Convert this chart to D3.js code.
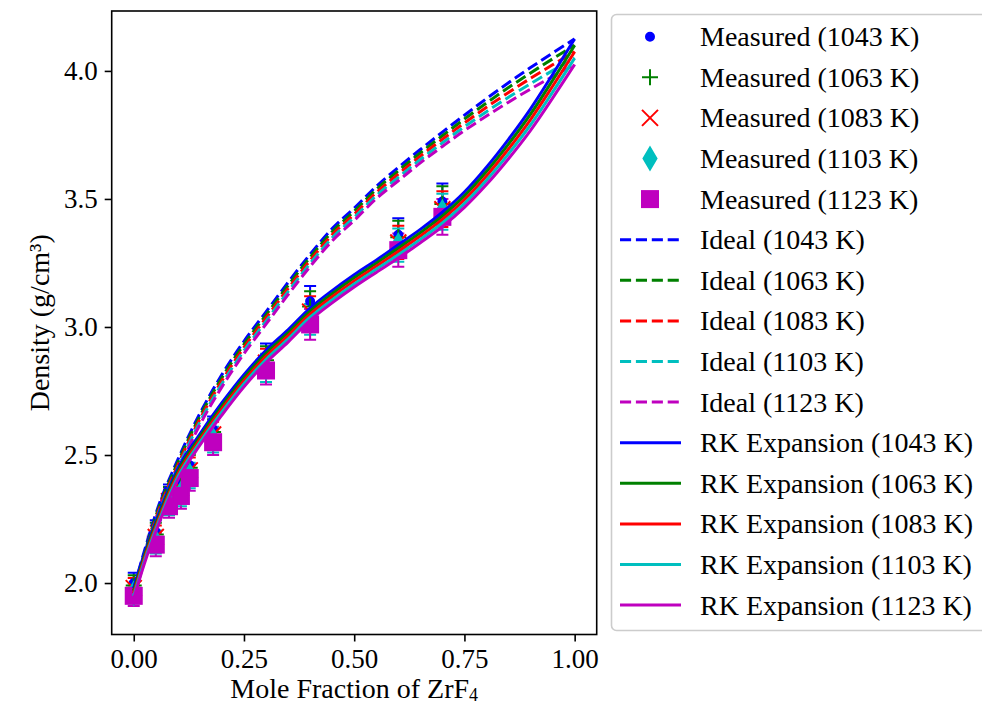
<!DOCTYPE html>
<html>
<head>
<meta charset="utf-8">
<script src="https://cdn.jsdelivr.net/npm/d3@7"></script>
<style>
  body { margin: 0; background: #fff; }
  svg text { font-family: "Liberation Serif", "DejaVu Serif", serif; fill: #000; }
</style>
</head>
<body>
<div id="chart"></div>
<script>
// ---------------- data ----------------
const temps = ["1043 K", "1063 K", "1083 K", "1103 K", "1123 K"];
const colors = ["#0000ff", "#008000", "#ff0000", "#00bfbf", "#bf00bf"];
const markers = ["point", "plus", "x", "thin_diamond", "square"];

// measured densities (g/cm3) vs mole fraction ZrF4
const measX = [0, 0.05, 0.08, 0.107, 0.127, 0.18, 0.30, 0.40, 0.60, 0.70];
const meas1043 = [2.00, 2.20, 2.34, 2.39, 2.46, 2.60, 2.88, 3.10, 3.36, 3.49];
const meas1063 = [1.99, 2.19, 2.33, 2.38, 2.45, 2.59, 2.87, 3.08, 3.35, 3.48];
const meas1083 = [1.98, 2.18, 2.32, 2.37, 2.44, 2.58, 2.86, 3.06, 3.33, 3.46];
const meas1103 = [1.96, 2.16, 2.31, 2.35, 2.42, 2.56, 2.84, 3.03, 3.32, 3.45];
const meas1123 = [1.95, 2.15, 2.30, 2.34, 2.41, 2.55, 2.83, 3.01, 3.30, 3.43];
const measErr  = [0.04, 0.045, 0.045, 0.05, 0.05, 0.05, 0.055, 0.06, 0.065, 0.07];

// model curves
const curveX = [0, 0.025, 0.05, 0.1, 0.15, 0.2, 0.25, 0.3, 0.35, 0.4, 0.45, 0.5, 0.55, 0.6, 0.65, 0.7, 0.75, 0.8, 0.85, 0.9, 0.95, 1.0];
const ideal1043 = [1.98, 2.13, 2.27, 2.482, 2.662, 2.814, 2.944, 3.059, 3.174, 3.284, 3.384, 3.464, 3.549, 3.623, 3.693, 3.761, 3.827, 3.892, 3.954, 4.013, 4.07, 4.125];
const ideal1063 = [1.97, 2.12, 2.26, 2.471, 2.651, 2.802, 2.932, 3.047, 3.162, 3.272, 3.372, 3.452, 3.537, 3.61, 3.68, 3.747, 3.812, 3.875, 3.935, 3.992, 4.047, 4.10];
const ideal1083 = [1.96, 2.11, 2.25, 2.46, 2.64, 2.79, 2.92, 3.035, 3.15, 3.26, 3.36, 3.44, 3.525, 3.597, 3.667, 3.733, 3.797, 3.858, 3.916, 3.971, 4.024, 4.075];
const ideal1103 = [1.95, 2.10, 2.24, 2.449, 2.629, 2.778, 2.908, 3.023, 3.138, 3.248, 3.348, 3.428, 3.513, 3.584, 3.654, 3.719, 3.782, 3.841, 3.897, 3.95, 4.001, 4.05];
const ideal1123 = [1.94, 2.09, 2.23, 2.438, 2.618, 2.766, 2.896, 3.011, 3.126, 3.236, 3.336, 3.416, 3.501, 3.571, 3.641, 3.705, 3.767, 3.824, 3.878, 3.929, 3.978, 4.025];
const rk1043 = [1.98, 2.12, 2.24, 2.447, 2.582, 2.704, 2.814, 2.909, 2.989, 3.074, 3.142, 3.204, 3.261, 3.321, 3.381, 3.448, 3.527, 3.624, 3.733, 3.852, 3.986, 4.125];
const rk1063 = [1.97, 2.11, 2.23, 2.436, 2.571, 2.692, 2.802, 2.897, 2.977, 3.062, 3.13, 3.192, 3.249, 3.308, 3.368, 3.434, 3.512, 3.607, 3.714, 3.831, 3.963, 4.10];
const rk1083 = [1.96, 2.10, 2.22, 2.425, 2.56, 2.68, 2.79, 2.885, 2.965, 3.05, 3.118, 3.18, 3.237, 3.295, 3.355, 3.42, 3.497, 3.59, 3.695, 3.81, 3.94, 4.075];
const rk1103 = [1.95, 2.09, 2.21, 2.414, 2.549, 2.668, 2.778, 2.873, 2.953, 3.038, 3.106, 3.168, 3.225, 3.282, 3.342, 3.406, 3.482, 3.573, 3.676, 3.789, 3.917, 4.05];
const rk1123 = [1.94, 2.08, 2.20, 2.403, 2.538, 2.656, 2.766, 2.861, 2.941, 3.026, 3.094, 3.156, 3.213, 3.269, 3.329, 3.392, 3.467, 3.556, 3.657, 3.768, 3.894, 4.025];

const xTicks = [0, 0.25, 0.5, 0.75, 1.0];
const yTicks = [2.0, 2.5, 3.0, 3.5, 4.0];

const measured = [meas1043, meas1063, meas1083, meas1103, meas1123];
const ideal = [ideal1043, ideal1063, ideal1083, ideal1103, ideal1123];
const rk = [rk1043, rk1063, rk1083, rk1103, rk1123];

// ---------------- layout ----------------
const W = 982, H = 705;
const plot = { left: 111.7, right: 596.7, top: 11, bottom: 634.5 };

const svg = d3.select("#chart").append("svg")
    .attr("width", W).attr("height", H);

const x = d3.scaleLinear().domain([-0.05, 1.05]).range([plot.left, plot.right]);
const y = d3.scaleLinear().domain([1.799, 4.234]).range([plot.bottom, plot.top]);

// clip for data
svg.append("defs").append("clipPath").attr("id", "clip")
    .append("rect")
    .attr("x", plot.left).attr("y", plot.top)
    .attr("width", plot.right - plot.left).attr("height", plot.bottom - plot.top);

// marker symbol drawer
function drawMarker(g, type, color) {
    if (type === "point") {
        g.append("circle").attr("r", 4).attr("fill", color).attr("stroke", color).attr("stroke-width", 2);
    } else if (type === "plus") {
        g.append("path").attr("d", "M-8,0H8M0,-8V8").attr("stroke", color).attr("stroke-width", 2).attr("fill", "none");
    } else if (type === "x") {
        g.append("path").attr("d", "M-8,-8L8,8M-8,8L8,-8").attr("stroke", color).attr("stroke-width", 2).attr("fill", "none");
    } else if (type === "thin_diamond") {
        g.append("path").attr("d", "M0,-11L6.5,0L0,11L-6.5,0Z").attr("fill", color).attr("stroke", color).attr("stroke-width", 2);
    } else if (type === "square") {
        g.append("rect").attr("x", -8).attr("y", -8).attr("width", 16).attr("height", 16)
            .attr("fill", color).attr("stroke", color).attr("stroke-width", 2);
    }
}

const dataG = svg.append("g").attr("clip-path", "url(#clip)");

// error bars first
measured.forEach((vals, k) => {
    const eg = dataG.append("g");
    vals.forEach((v, i) => {
        const px = x(measX[i]);
        const y0 = y(v - measErr[i]), y1 = y(v + measErr[i]);
        eg.append("path")
            .attr("d", `M${px},${y0}V${y1}M${px - 6},${y0}H${px + 6}M${px - 6},${y1}H${px + 6}`)
            .attr("stroke", colors[k]).attr("stroke-width", 2).attr("fill", "none");
    });
});

// measured markers
measured.forEach((vals, k) => {
    vals.forEach((v, i) => {
        const mg = dataG.append("g").attr("transform", `translate(${x(measX[i])},${y(v)})`);
        drawMarker(mg, markers[k], colors[k]);
    });
});

const line = d3.line()
    .x(d => x(d[0]))
    .y(d => y(d[1]))
    .curve(d3.curveMonotoneX);

// ideal dashed
ideal.forEach((vals, k) => {
    dataG.append("path")
        .attr("d", line(curveX.map((c, i) => [c, vals[i]])))
        .attr("fill", "none")
        .attr("stroke", colors[k])
        .attr("stroke-width", 3)
        .attr("stroke-dasharray", "11.1,4.8");
});

// RK solid
rk.forEach((vals, k) => {
    dataG.append("path")
        .attr("d", line(curveX.map((c, i) => [c, vals[i]])))
        .attr("fill", "none")
        .attr("stroke", colors[k])
        .attr("stroke-width", 3);
});

// ---------------- axes ----------------
const xAxis = svg.append("g")
    .attr("transform", `translate(0,${plot.bottom})`)
    .call(d3.axisBottom(x).tickValues(xTicks).tickFormat(d3.format(".2f")).tickSizeOuter(0).tickSize(7).tickPadding(7));
const yAxis = svg.append("g")
    .attr("transform", `translate(${plot.left},0)`)
    .call(d3.axisLeft(y).tickValues(yTicks).tickFormat(d3.format(".1f")).tickSizeOuter(0).tickSize(7).tickPadding(7));

[xAxis, yAxis].forEach(a => {
    a.select(".domain").remove();
    a.selectAll(".tick line").attr("stroke", "#000").attr("stroke-width", 1.6);
    a.selectAll(".tick text").style("font-size", "27px").style("font-family", "Liberation Serif, serif").attr("fill", "#000");
});

// frame
svg.append("rect")
    .attr("x", plot.left).attr("y", plot.top)
    .attr("width", plot.right - plot.left).attr("height", plot.bottom - plot.top)
    .attr("fill", "none").attr("stroke", "#000").attr("stroke-width", 1.6);

// axis labels
const xl = svg.append("text")
    .attr("x", (plot.left + plot.right) / 2).attr("y", 698)
    .attr("text-anchor", "middle")
    .style("font-size", "28px")
    .text("Mole Fraction of ZrF");
xl.append("tspan").attr("dy", 3).style("font-size", "18px").text("4");

svg.append("text")
    .attr("transform", `translate(49,${(plot.top + plot.bottom) / 2}) rotate(-90)`)
    .attr("text-anchor", "middle")
    .style("font-size", "28px")
    .text("Density (g/cm³)");

// ---------------- legend ----------------
const legend = svg.append("g");
legend.append("rect")
    .attr("x", 611.5).attr("y", 14.5)
    .attr("width", 400).attr("height", 616)
    .attr("rx", 5).attr("ry", 5)
    .attr("fill", "#fff").attr("fill-opacity", 0.8)
    .attr("stroke", "#cccccc").attr("stroke-width", 1.6);

const rowY = i => 36.7 + 40.6 * i;
const entries = [];
temps.forEach((t, k) => entries.push({ kind: "marker", k, label: `Measured (${t})` }));
temps.forEach((t, k) => entries.push({ kind: "dash", k, label: `Ideal (${t})` }));
temps.forEach((t, k) => entries.push({ kind: "solid", k, label: `RK Expansion (${t})` }));

entries.forEach((e, i) => {
    const cy = rowY(i);
    if (e.kind === "marker") {
        const mg = legend.append("g").attr("transform", `translate(650,${cy})`);
        drawMarker(mg, markers[e.k], colors[e.k]);
    } else {
        legend.append("line")
            .attr("x1", 620).attr("x2", 681).attr("y1", cy).attr("y2", cy)
            .attr("stroke", colors[e.k]).attr("stroke-width", 3)
            .attr("stroke-dasharray", e.kind === "dash" ? "11.1,4.8" : null);
    }
    legend.append("text")
        .attr("x", 700).attr("y", cy).attr("dy", "0.34em")
        .style("font-size", "28px")
        .text(e.label);
});
</script>
</body>
</html>
